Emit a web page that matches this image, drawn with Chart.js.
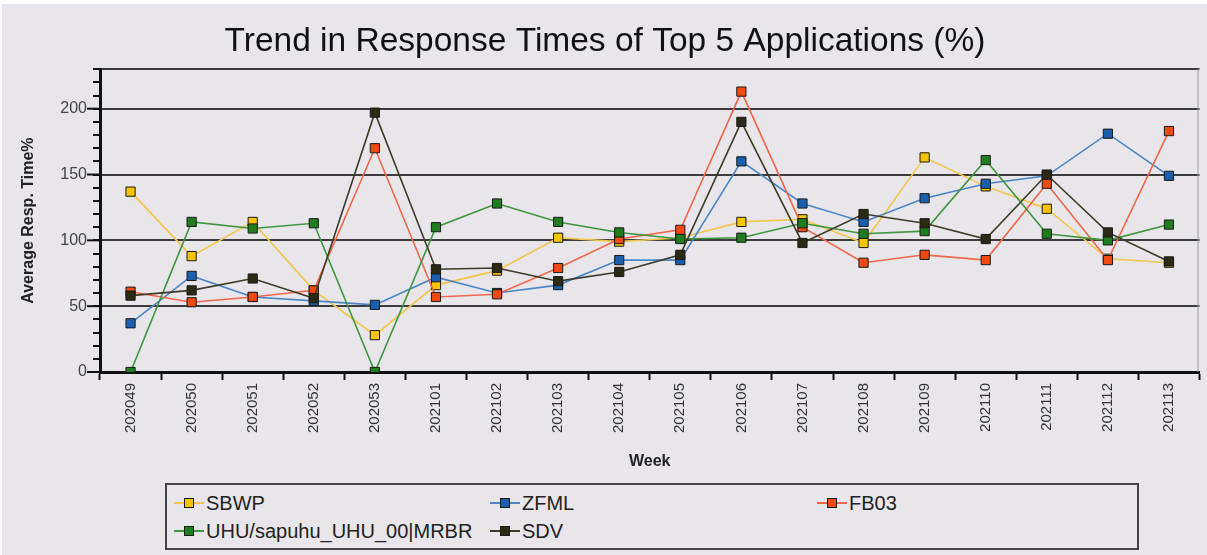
<!DOCTYPE html>
<html>
<head>
<meta charset="utf-8">
<script src="https://cdn.jsdelivr.net/npm/chart.js@4/dist/chart.umd.min.js"></script>
<style>
    body { margin: 0; background: #ffffff; font-family: "Liberation Sans", Arial, sans-serif; }
    #panel { position: absolute; left: 2px; top: 4px; width: 1205px; height: 551px; background: #e8e6ea; }
    #wrap { position: absolute; left: 0; top: 0; width: 1207px; height: 480px; }
    #legend {
        position: absolute; left: 165px; top: 483px; width: 974px; height: 67px;
        border: 2px solid #444; box-sizing: border-box;
        display: grid; grid-template-columns: 316px 327px 300px; grid-auto-rows: 28px;
        padding: 4px 0 0 7px;
    }
    .item { display: flex; align-items: center; font-size: 20px; color: #222; white-space: nowrap; }
    .sym { position: relative; width: 30px; height: 10px; margin-right: 2px; }
    .sym .ln { position: absolute; left: 0; right: 0; top: 4px; height: 2px; }
    .sym .bx { position: absolute; left: 10px; top: 0; width: 8px; height: 8px; border: 1px solid #1a1a1a; }
</style>
</head>
<body>
<div id="panel"></div>
<div id="wrap"><canvas id="trendPlot" width="1207" height="480"></canvas></div>
<div id="legend"></div>
<script>
// Weeks on the x axis
var weeks = ['202049', '202050', '202051', '202052', '202053', '202101', '202102', '202103', '202104',
             '202105', '202106', '202107', '202108', '202109', '202110', '202111', '202112', '202113'];

// Average response time per application, in %
var sbwp = [137, 88, 114, 62, 28, 66, 77, 102, 99, 102, 114, 116, 98, 163, 141, 124, 86, 83];
var zfml = [37, 73, 57, 54, 51, 72, 60, 66, 85, 85, 160, 128, 114, 132, 143, 149, 181, 149];
var fb03 = [61, 53, 57, 62, 170, 57, 59, 79, 101, 108, 213, 110, 83, 89, 85, 143, 85, 183];
var uhu  = [0, 114, 109, 113, 0, 110, 128, 114, 106, 101, 102, 113, 105, 107, 161, 105, 100, 112];
var sdv  = [58, 62, 71, 56, 197, 78, 79, 69, 76, 89, 190, 98, 120, 113, 101, 150, 106, 84];

var names = ['SBWP', 'ZFML', 'FB03', 'UHU/sapuhu_UHU_00|MRBR', 'SDV'];
var lineColors = ['#f2c64a', '#4a86c6', '#f2664a', '#3e963e', '#3d3a28'];
var markColors = ['#f7c400', '#1a5fae', '#ee4a12', '#1f7d1f', '#2c2914'];

var FONT = '"Liberation Sans", Arial, sans-serif';

function makeSet(i, values) {
    return {
        label: names[i],
        data: values,
        borderColor: lineColors[i],
        borderWidth: 1.6,
        backgroundColor: markColors[i],
        pointStyle: 'rect',
        pointRadius: 6.5,
        pointBorderColor: '#1a1a1a',
        pointBorderWidth: 1,
        tension: 0,
        order: 4 - i
    };
}

// Longer major ticks on the y axis + thin right frame
var axisExtras = {
    id: 'axisExtras',
    afterDraw: function(chart) {
        var ctx = chart.ctx;
        var y = chart.scales.y;
        var area = chart.chartArea;
        ctx.save();
        ctx.strokeStyle = '#111';
        ctx.lineWidth = 2;
        for (var v = 0; v <= 200; v += 50) {
            var py = y.getPixelForValue(v);
            ctx.beginPath();
            ctx.moveTo(area.left - 13, py);
            ctx.lineTo(area.left, py);
            ctx.stroke();
        }
        ctx.strokeStyle = '#9a9a9a';
        ctx.lineWidth = 1;
        ctx.beginPath();
        ctx.moveTo(area.right - 1.5, area.top);
        ctx.lineTo(area.right - 1.5, area.bottom);
        ctx.stroke();
        ctx.restore();
    }
};

var chart = new Chart(document.getElementById('trendPlot'), {
    type: 'line',
    data: {
        labels: weeks,
        datasets: [makeSet(0, sbwp), makeSet(1, zfml), makeSet(2, fb03), makeSet(3, uhu), makeSet(4, sdv)]
    },
    options: {
        responsive: false,
        animation: false,
        layout: { padding: { left: 0, right: -3, top: 0, bottom: 0 } },
        plugins: {
            legend: { display: false },
            tooltip: { enabled: false },
            title: {
                display: true,
                text: 'Trend in Response Times of Top 5 Applications (%)',
                color: '#111',
                font: { family: FONT, size: 33.5, weight: 'normal' },
                padding: { top: 22, bottom: 7 }
            }
        },
        scales: {
            x: {
                offset: true,
                afterFit: function(scale) {
                    scale.height = 108;
                },
                grid: {
                    display: true, drawOnChartArea: false, offset: true,
                    tickLength: 8, tickColor: '#111', tickWidth: 2
                },
                border: { color: '#111', width: 3 },
                ticks: {
                    autoSkip: false, minRotation: 90, maxRotation: 90, padding: 3,
                    color: '#333', font: { family: FONT, size: 15 }
                },
                title: {
                    display: true, text: 'Week', color: '#222',
                    font: { family: FONT, size: 16, weight: 'bold' },
                    padding: { top: 4, bottom: 9 }
                }
            },
            y: {
                min: 0,
                max: 230,
                afterFit: function(scale) { scale.width = 100; },
                grid: {
                    lineWidth: 2,
                    color: function(c) {
                        var v = c.tick.value;
                        return (v % 50 === 0 || v === 230) ? '#3c3c3c' : 'rgba(0,0,0,0)';
                    },
                    tickLength: 7, tickColor: '#111', tickWidth: 2
                },
                border: { color: '#111', width: 3 },
                ticks: {
                    stepSize: 10, maxTicksLimit: 40, autoSkip: false, padding: 6, color: '#444',
                    font: { family: FONT, size: 16 },
                    callback: function(v) { return (v % 50 === 0 && v <= 200) ? v : ''; }
                },
                title: {
                    display: true, text: 'Average Resp. Time%', color: '#222',
                    font: { family: FONT, size: 16, weight: 'bold' },
                    padding: { top: 19, bottom: 4 }
                }
            }
        }
    },
    plugins: [axisExtras]
});

// Legend in three columns, built from the datasets
var legendBox = document.getElementById('legend');
chart.data.datasets.forEach(function(ds) {
    var item = document.createElement('div');
    item.className = 'item';
    item.innerHTML = '<span class="sym"><span class="ln" style="background:' + ds.borderColor + '"></span>' +
        '<span class="bx" style="background:' + ds.backgroundColor + '"></span></span>';
    item.appendChild(document.createTextNode(ds.label));
    legendBox.appendChild(item);
});
</script>
</body>
</html>
